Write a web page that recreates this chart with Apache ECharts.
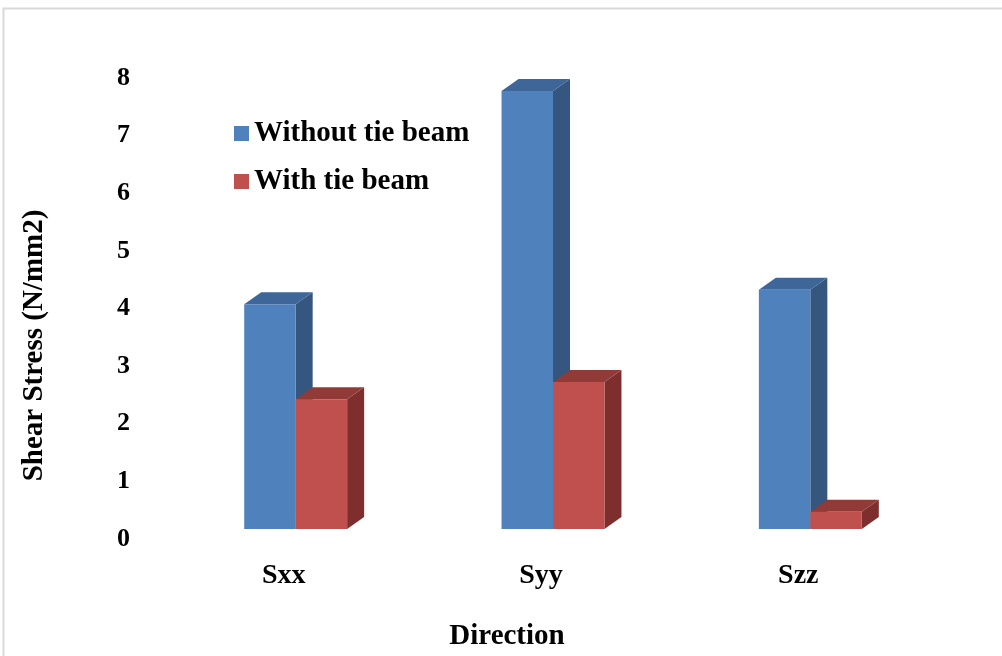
<!DOCTYPE html>
<html>
<head>
<meta charset="utf-8">
<style>
  html, body { margin: 0; padding: 0; background: #ffffff; }
  #chart { width: 1002px; height: 656px; }
</style>
<script src="https://cdn.jsdelivr.net/npm/echarts@6/dist/echarts.min.js"></script>
</head>
<body>
<div id="chart"></div>
<script>
// Shear stress per direction, with and without a tie beam (N/mm2)
const categories = ['Sxx', 'Syy', 'Szz'];
const withoutTieBeam = [3.9, 7.6, 4.15];
const withTieBeam = [2.25, 2.55, 0.3];
const seriesNames = ['Without tie beam', 'With tie beam'];

const FONT = "'Liberation Serif', 'Times New Roman', serif";

// Face colours of the extruded columns: front, side, top
const palette = [
  { front: '#4F81BD', side: '#34567F', top: '#3E6698' },
  { front: '#C0504D', side: '#7E2F2D', top: '#913B38' }
];

// Pseudo-3D extrusion: depth offset and floor lift
const DEPTH_X = 17;
const DEPTH_Y = 12;
const FLOOR_LIFT = 10;

function makeRenderer(seriesIdx) {
  const col = palette[seriesIdx];
  return function (params, api) {
    const catIdx = api.value(0);
    const val = api.value(1);
    const base = api.coord([catIdx, 0]);
    const topPt = api.coord([catIdx, val]);
    const band = api.size([1, 0])[0];
    const barW = band * 0.2;
    const x0 = base[0] - barW + seriesIdx * barW;
    const x1 = x0 + barW;
    const yb = base[1] - FLOOR_LIFT;
    const yt = topPt[1] - FLOOR_LIFT;
    return {
      type: 'group',
      children: [
        {
          type: 'polygon',
          shape: { points: [[x1, yt], [x1 + DEPTH_X, yt - DEPTH_Y], [x1 + DEPTH_X, yb - DEPTH_Y], [x1, yb]] },
          style: { fill: col.side }
        },
        {
          type: 'polygon',
          shape: { points: [[x0, yt], [x1, yt], [x1 + DEPTH_X, yt - DEPTH_Y], [x0 + DEPTH_X, yt - DEPTH_Y]] },
          style: { fill: col.top }
        },
        {
          type: 'rect',
          shape: { x: x0, y: yt, width: barW, height: yb - yt },
          style: { fill: col.front }
        }
      ]
    };
  };
}

const chart = echarts.init(document.getElementById('chart'), null, { renderer: 'canvas' });

chart.setOption({
  animation: false,
  backgroundColor: '#ffffff',
  graphic: [
    {
      type: 'rect',
      shape: { x: 3.5, y: 8.5, width: 1100, height: 700 },
      style: { fill: 'none', stroke: '#d9d9d9', lineWidth: 2 },
      silent: true,
      z: -10
    }
  ],
  legend: {
    orient: 'vertical',
    left: 229,
    top: 114,
    itemWidth: 15,
    itemHeight: 15,
    itemGap: 19,
    icon: 'rect',
    data: seriesNames,
    textStyle: { fontFamily: FONT, fontWeight: 'bold', fontSize: 29, color: '#000' }
  },
  grid: { left: 167, right: 63, top: 78, bottom: 116 },
  xAxis: {
    type: 'category',
    data: categories,
    axisLine: { show: false },
    axisTick: { show: false },
    splitLine: { show: false },
    axisLabel: {
      margin: 23,
      padding: [0, 24, 0, 0],
      fontFamily: FONT, fontWeight: 'bold', fontSize: 28, color: '#000'
    },
    name: 'Direction',
    nameLocation: 'middle',
    nameGap: 83,
    nameTextStyle: {
      padding: [0, 92, 0, 0],
      fontFamily: FONT, fontWeight: 'bold', fontSize: 29, color: '#000'
    }
  },
  yAxis: {
    type: 'value',
    min: 0,
    max: 8,
    interval: 1,
    axisLine: { show: false },
    axisTick: { show: false },
    splitLine: { show: false },
    axisLabel: {
      margin: 37,
      fontFamily: FONT, fontWeight: 'bold', fontSize: 26, color: '#000'
    },
    name: 'Shear Stress (N/mm2)',
    nameLocation: 'middle',
    nameGap: 118,
    nameTextStyle: {
      padding: [0, 74, 0, 0],
      fontFamily: FONT, fontWeight: 'bold', fontSize: 29, color: '#000'
    }
  },
  series: [
    {
      name: seriesNames[0],
      type: 'custom',
      itemStyle: { color: palette[0].front },
      renderItem: makeRenderer(0),
      encode: { x: 0, y: 1 },
      data: withoutTieBeam.map((v, i) => [i, v])
    },
    {
      name: seriesNames[1],
      type: 'custom',
      itemStyle: { color: palette[1].front },
      renderItem: makeRenderer(1),
      encode: { x: 0, y: 1 },
      data: withTieBeam.map((v, i) => [i, v])
    }
  ]
});
</script>
</body>
</html>
